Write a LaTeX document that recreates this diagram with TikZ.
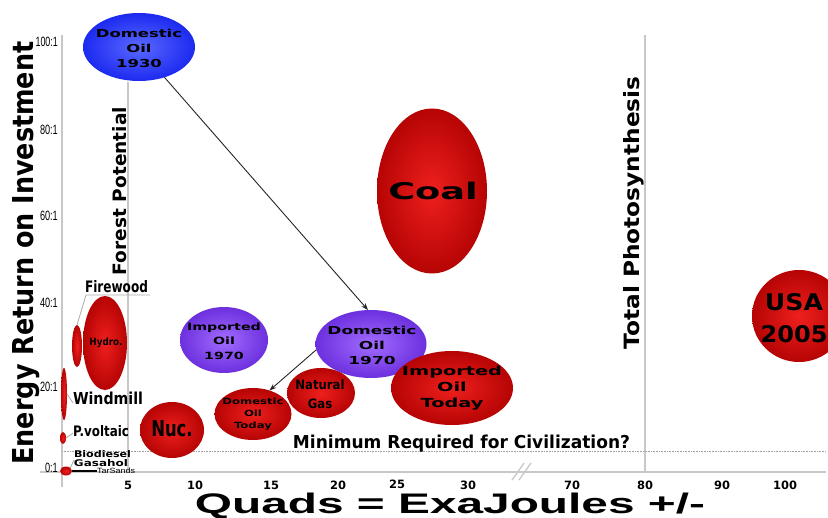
\documentclass[tikz,border=0pt]{standalone}
\usepackage{fontspec}
\setmainfont{DejaVu Sans}
\newfontfamily\lib{Liberation Sans}
\usetikzlibrary{shapes.geometric,arrows.meta}
\definecolor{rin}{RGB}{238,32,30}
\definecolor{rout}{RGB}{182,4,4}
\definecolor{pin}{RGB}{162,108,255}
\definecolor{pout}{RGB}{108,48,222}
\definecolor{bin}{RGB}{90,105,255}
\definecolor{bout}{RGB}{28,42,240}
\definecolor{axg}{RGB}{200,200,200}
\newcommand\fitt[3]{\resizebox{#1bp}{#2bp}{#3}}
\newcommand\sx[2]{\scalebox{#1}[1]{#2}}
\begin{document}
\begin{tikzpicture}[x=1bp,y=-1bp,
  blob/.style={ellipse, inner sep=0pt, outer sep=0pt, shading=radial},
  redblob/.style={blob, inner color=rin, outer color=rout},
  purblob/.style={blob, inner color=pin, outer color=pout},
  blueblob/.style={blob, inner color=bin, outer color=bout},
  axisline/.style={draw=axg, line width=1.3bp},
  leadline/.style={draw=axg!85!black, line width=0.8bp},
  conn/.style={draw=black!85, line width=0.9bp, -{Stealth[length=7bp,width=5bp]}},
  txt/.style={inner sep=0pt, outer sep=0pt, font=\bfseries},
  inl/.style={txt, align=center},
  ytick/.style={inner sep=0pt, anchor=base east, font=\lib\fontsize{13.5}{14}\selectfont},
  xtick/.style={inner sep=0pt, anchor=base, font=\bfseries\fontsize{11.5}{12}\selectfont},
]
\clip (0,0) rectangle (828,518);
\fill[white] (0,0) rectangle (828,518);

% axes and guide lines
\draw[axisline] (62,35) -- (62,487);
\draw[axisline] (40,472) -- (826,472);
\draw[axisline] (128,82) -- (128,472);
\draw[axisline] (645,35) -- (645,472);
\draw[draw=axg!80!black, line width=0.6bp, densely dotted] (62,451) -- (826,451);
\draw[axisline] (512,480) -- (524,463);
\draw[axisline] (519,480) -- (531,463);

% y ticks
\node[ytick] (y100) at (58,47)  {\sx{0.66}{100:1}};
\node[ytick] (y80)  at (58,135) {\sx{0.68}{80:1}};
\node[ytick] (y60)  at (58,221) {\sx{0.68}{60:1}};
\node[ytick] (y40)  at (58,308) {\sx{0.68}{40:1}};
\node[ytick] (y20)  at (58,391) {\sx{0.68}{20:1}};
\node[ytick] (y0)   at (58,472) {\sx{0.68}{0:1}};

% x ticks
\node[xtick] (x5)   at (128,489) {5};
\node[xtick] (x10)  at (195,489) {10};
\node[xtick] (x15)  at (271,489) {15};
\node[xtick] (x20)  at (338,489) {20};
\node[xtick] (x25)  at (397,488) {25};
\node[xtick] (x30)  at (468,489) {30};
\node[xtick] (x70)  at (572,489) {70};
\node[xtick] (x80)  at (645,489) {80};
\node[xtick] (x90)  at (722,489) {90};
\node[xtick] (x100) at (785,489) {100};

% axis titles and vertical labels
\node[txt, rotate=90, anchor=base] (ytitle) at (33,253) {\fitt{423}{21}{Energy Return on Investment}};
\node[txt, anchor=base, font=\lib\bfseries] (xtitle) at (450,513) {\fitt{510}{20.5}{Quads = ExaJoules +/-}};
\node[txt, rotate=90, anchor=base] (forest) at (126,191) {\fitt{168}{14}{Forest Potential}};
\node[txt, rotate=90, anchor=base] (photo) at (639,213) {\fitt{273}{16}{Total Photosynthesis}};
\node[txt, anchor=base] (minciv) at (461.5,448) {\fitt{337}{13.5}{Minimum Required for Civilization?}};

% small items on the left
\node[redblob, minimum width=10bp, minimum height=42bp] (fw) at (77,346) {};
\node[redblob, minimum width=44bp, minimum height=94bp] (hydro) at (105,343) {};
\node[redblob, minimum width=6bp, minimum height=52bp] (wind) at (64,394) {};
\node[redblob, minimum width=6bp, minimum height=12bp] (pv) at (63,438) {};
\node[redblob, minimum width=12bp, minimum height=9bp] (bio) at (66,471) {};
\node[txt, font=\bfseries\fontsize{10}{10}\selectfont] (hydrot) at (106,343) {\sx{0.88}{Hydro.}};

\node[txt, anchor=base] (fwt) at (116.5,293) {\fitt{63}{12}{Firewood}};
\node[txt, anchor=base] (windt) at (108,404) {\fitt{70}{12.5}{Windmill}};
\node[txt, anchor=base] (pvt) at (101,436) {\fitt{56}{11}{P.voltaic}};
\node[txt, anchor=base] (biot) at (102.5,457) {\fitt{57}{7}{Biodiesel}};
\node[txt, anchor=base] (gast) at (101,466) {\fitt{54}{7}{Gasahol}};
\node[inner sep=0pt, anchor=base, font=\lib] (tart) at (116,473) {\fitt{38}{5.5}{TarSands}};

\coordinate (fwa) at (86,295);
\coordinate (fwb) at (150,295);
\coordinate (winda) at (73,403);
\coordinate (pva) at (73,433);
\coordinate (bioa) at (74,460);
\coordinate (tara) at (97,471);
\draw[leadline] (fw.north) -- (fwa) -- (fwb);
\draw[leadline] (wind.east) -- (winda);
\draw[leadline] (pv.east) -- (pva);
\draw[leadline] (bio.north east) -- (bioa);
\draw[black, line width=1.6bp] (bio.east) -- (tara);

% big blobs
\node[blueblob, minimum width=112bp, minimum height=68bp] (d1930) at (139,47) {};
\node[purblob, minimum width=88bp, minimum height=66bp] (i1970) at (224,340) {};
\node[purblob, minimum width=111bp, minimum height=68bp] (d1970) at (371,344) {};
\node[redblob, minimum width=77bp, minimum height=52bp] (dtoday) at (253,414) {};
\node[redblob, minimum width=68bp, minimum height=50bp] (gas) at (321,393) {};
\node[redblob, minimum width=122bp, minimum height=74bp] (itoday) at (452,388) {};
\node[redblob, minimum width=110bp, minimum height=165bp] (coal) at (432,191) {};
\node[redblob, minimum width=64bp, minimum height=56bp] (nuc) at (172,430) {};
\node[redblob, minimum width=94bp, minimum height=92bp] (usa) at (799,316) {};

% blob texts
\node[inl, font=\bfseries\fontsize{11}{15}\selectfont] (d1930t) at (139,48) {\sx{1.5}{Domestic}\\\sx{1.5}{Oil}\\\sx{1.5}{1930}};
\node[inl, font=\bfseries\fontsize{10}{14.5}\selectfont] (i1970t) at (224,341) {\sx{1.43}{Imported}\\\sx{1.43}{Oil}\\\sx{1.43}{1970}};
\node[inl, font=\bfseries\fontsize{11}{15}\selectfont] (d1970t) at (372,345) {\sx{1.55}{Domestic}\\\sx{1.55}{Oil}\\\sx{1.55}{1970}};
\node[inl, font=\bfseries\fontsize{8.5}{12}\selectfont] (dtodayt) at (253,414) {\sx{1.38}{Domestic}\\\sx{1.38}{Oil}\\\sx{1.38}{Today}};
\node[inl, font=\bfseries\fontsize{13}{19}\selectfont] (gast2) at (320,394) {\sx{0.9}{Natural}\\\sx{0.9}{Gas}};
\node[inl, font=\bfseries\fontsize{12.5}{16}\selectfont] (itodayt) at (452,388) {\sx{1.55}{Imported}\\\sx{1.55}{Oil}\\\sx{1.55}{Today}};
\node[inl, font=\bfseries\fontsize{23}{24}\selectfont] (coalt) at (433,191) {\sx{1.6}{Coal}};
\node[inl, font=\bfseries\fontsize{22}{24}\selectfont] (nuct) at (172,429) {\sx{0.75}{Nuc.}};
\node[inl, font=\bfseries\fontsize{23}{32}\selectfont] (usat) at (794,318) {\sx{1.1}{USA}\\\sx{1.05}{2005}};

% connectors
\draw[conn] (d1930.-50) -- (d1970.95);
\draw[conn] (d1970.186) -- (dtoday.55);
\end{tikzpicture}
\end{document}
